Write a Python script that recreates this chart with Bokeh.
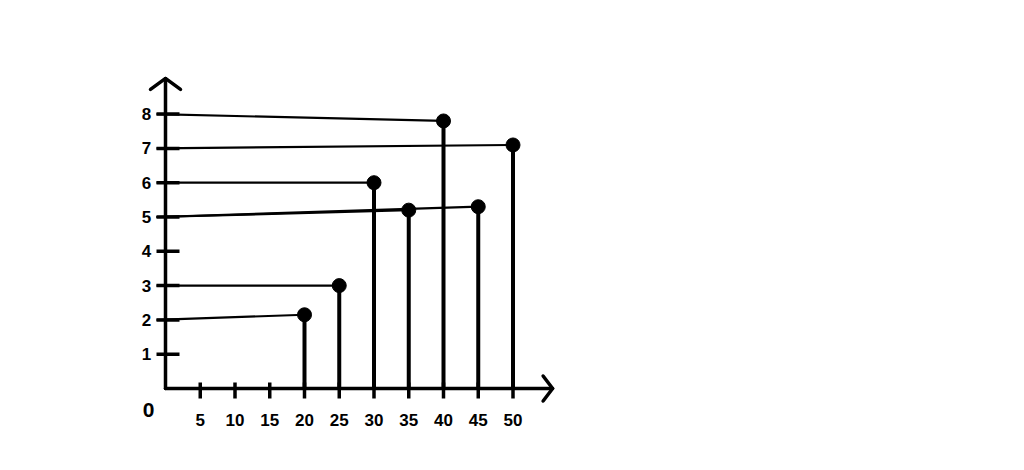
from bokeh.plotting import figure
from bokeh.embed import file_html
from bokeh.resources import INLINE
from bokeh.core.properties import value

# ---- data ----
x_vals = [20, 25, 30, 35, 40, 45, 50]
y_vals = [2.15, 3.0, 6.0, 5.2, 7.8, 5.3, 7.1]
guide_levels = [2, 3, 6, 5, 8, 5, 7]
x_ticks = [5, 10, 15, 20, 25, 30, 35, 40, 45, 50]
x_tick_labels = ["5", "10", "15", "20", "25", "30", "35", "40", "45", "50"]
y_ticks = [1, 2, 3, 4, 5, 6, 7, 8]
y_tick_labels = ["1", "2", "3", "4", "5", "6", "7", "8"]
origin_label = ["0"]
x_axis_end = 55.7
y_axis_end = 9.04

# ---- layout ----
W, H = 1000, 450
PX_X = 6.95   # pixels per x unit
PX_Y = 34.3   # pixels per y unit
ORIGIN_X = 165  # canvas px from left
ORIGIN_Y = 62   # canvas px from bottom

def dx(px):
    return px / PX_X

def dy(px):
    return px / PX_Y

xs = -ORIGIN_X / PX_X
ys = -ORIGIN_Y / PX_Y
p = figure(width=W, height=H,
           x_range=(xs, xs + W / PX_X), y_range=(ys, ys + H / PX_Y),
           output_backend="svg", toolbar_location=None,
           x_axis_type=None, y_axis_type=None, min_border=0)
p.outline_line_color = None
p.background_fill_color = "white"
p.border_fill_color = "white"

INK = "black"
FONT = value("Liberation Sans")

# guide lines from y axis to each point
p.segment(x0=[dx(-9)] * len(x_vals), y0=guide_levels, x1=x_vals, y1=y_vals,
          line_color=INK, line_width=2.2)

# stems
p.segment(x0=x_vals, y0=[0] * len(x_vals), x1=x_vals, y1=y_vals,
          line_color=INK, line_width=4)

# axes
p.line([0, 0], [0, y_axis_end], line_color=INK, line_width=3.5, line_cap="round")
p.line([0, x_axis_end], [0, 0], line_color=INK, line_width=3.5, line_cap="round")
# arrow heads
p.line([dx(-15), 0, dx(15)], [y_axis_end - dy(11), y_axis_end, y_axis_end - dy(11)],
       line_color=INK, line_width=3.5, line_cap="round", line_join="round")
p.line([x_axis_end - dx(9.5), x_axis_end, x_axis_end - dx(9.5)], [dy(12.5), 0, dy(-12.5)],
       line_color=INK, line_width=3.5, line_cap="round", line_join="round")

# ticks
p.segment(x0=x_ticks, y0=[dy(-10)] * len(x_ticks), x1=x_ticks, y1=[dy(6)] * len(x_ticks),
          line_color=INK, line_width=3.5)
p.segment(x0=[dx(-9)] * len(y_ticks), y0=y_ticks, x1=[dx(14)] * len(y_ticks), y1=y_ticks,
          line_color=INK, line_width=3.5)

# points
p.scatter(x_vals, y_vals, size=14, color=INK)

# tick labels
p.text(x=x_ticks, y=[dy(-31)] * len(x_ticks), text=x_tick_labels,
       text_font=FONT, text_font_style="bold", text_font_size="17px",
       text_align="center", text_baseline="middle", text_color=INK)
p.text(x=[dx(-19)] * len(y_ticks), y=y_ticks, text=y_tick_labels,
       text_font=FONT, text_font_style="bold", text_font_size="17px",
       text_align="center", text_baseline="middle", text_color=INK)
p.text(x=[dx(-17)], y=[dy(-21)], text=origin_label,
       text_font=FONT, text_font_style="bold", text_font_size="21px",
       text_align="center", text_baseline="middle", text_color=INK)

open("out.html", "w").write(file_html(p, INLINE))
